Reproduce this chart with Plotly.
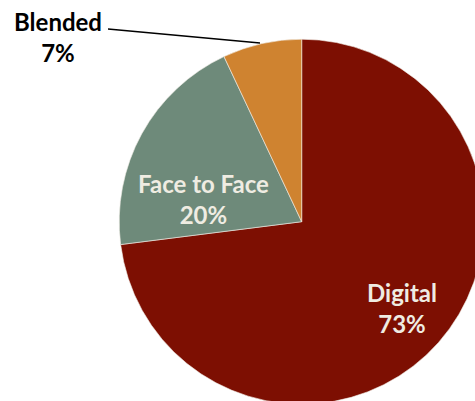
import plotly.graph_objects as go

labels = ["Digital", "Face to Face", "Blended"]
values = [73, 20, 7]
colors = ["#7D0F02", "#6E8A7A", "#CF8330"]

W, H = 490, 410

fig = go.Figure(go.Pie(
    labels=labels,
    values=values,
    sort=False,
    direction="clockwise",
    rotation=0,
    marker=dict(colors=colors, line=dict(color="#F2EFE8", width=0.6)),
    textinfo="none",
    hoverinfo="skip",
    showlegend=False,
    domain=dict(x=[119.2 / W, 484.2 / W], y=[(H - 404.2) / H, (H - 39.2) / H]),
))

label_font = dict(family="Lato", size=24, color="#EFECE2", weight="bold")
# label block centres in pixels (from top-left of the plot)
label_pos = {"Digital": (401.7, 308.3), "Face to Face": (203.5, 198.7)}
for lab, val in zip(labels, values):
    if lab in label_pos:
        px, py = label_pos[lab]
        fig.add_annotation(
            x=px / W, y=1 - py / H, xref="paper", yref="paper",
            text=f"{lab}<br>{val}%", showarrow=False, font=label_font,
            xanchor="center", yanchor="middle",
        )

fig.add_annotation(
    x=57.5 / W, y=1 - 37 / H, xref="paper", yref="paper",
    text=f"{labels[2]}<br>{values[2]}%", showarrow=False,
    font=dict(family="Lato", size=24, color="#000000", weight="bold"),
    xanchor="center", yanchor="middle",
)
fig.add_shape(type="line", xref="paper", yref="paper",
              x0=108 / W, y0=1 - 29 / H, x1=260 / W, y1=1 - 43 / H,
              line=dict(color="#000000", width=1.5))

fig.update_layout(
    width=W, height=H,
    margin=dict(l=0, r=0, t=0, b=0),
    paper_bgcolor="white",
    plot_bgcolor="white",
)

fig.write_html(
    "out.html",
    config={"displayModeBar": False},
    post_script="document.documentElement.style.overflow='hidden';"
                "document.body.style.margin='0';document.body.style.overflow='hidden';",
)
